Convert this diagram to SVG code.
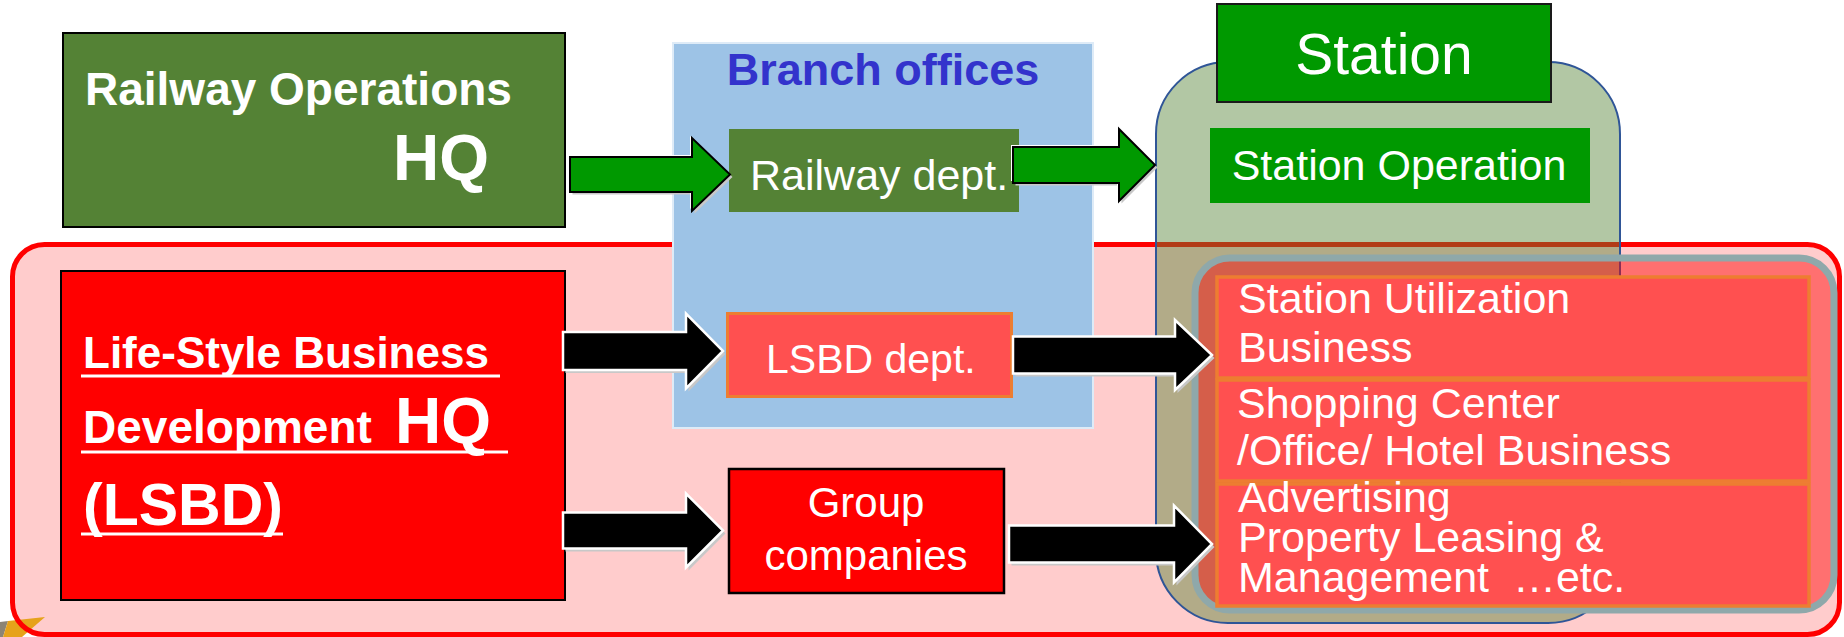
<svg xmlns="http://www.w3.org/2000/svg" width="1844" height="637" viewBox="0 0 1844 637">
<style>
text{font-family:"Liberation Sans",Arial,sans-serif;fill:#fff}
.b{font-weight:bold}
.ul{stroke:#fff;stroke-width:3}
.dkgreen{fill:#548235}
.green{fill:#009900}
.row{fill:#FF5050;stroke:#ED7D31;stroke-width:3.5}
.arG{fill:#009900;stroke:#000;stroke-width:2;stroke-linejoin:miter}
.arK{fill:#000;stroke:#fff;stroke-width:2.5;stroke-linejoin:miter}
.sh{fill:#C8C8C8}
.hl{fill:#fff}
</style>
<rect width="1844" height="637" fill="#fff"/>

<g id="lsbd-region">
<rect x="12.5" y="244.5" width="1827" height="390" rx="32" fill="#FFCCCC"/>
<polygon points="0,622 8,621 3,637 0,637" fill="#8C8474"/>
<polygon points="3,637 8,621 45,617 22,637" fill="#E6A21A"/>
<rect x="12.5" y="244.5" width="1827" height="390" rx="32" fill="none" stroke="#FF0000" stroke-width="5"/>
</g>

<g id="branch-offices">
<rect x="673" y="43" width="420" height="385" fill="#9DC3E6" stroke="#DEEBF7" stroke-width="2"/>
<text x="883" y="85" class="b" font-size="45" text-anchor="middle" style="fill:#3333CC">Branch offices</text>
</g>

<g id="station">
<rect x="1156" y="62" width="464" height="561" rx="72" fill="#548235" fill-opacity="0.45" stroke="#2F5597" stroke-width="2"/>
</g>

<g id="business-area">
<rect x="1195" y="258" width="639" height="352" rx="35" fill="#FF0000" fill-opacity="0.45" stroke="#8FA8AA" stroke-width="7"/>
</g>

<g id="station-utilization">
<rect x="1217" y="277" width="592" height="101" class="row"/>
<text x="1238" y="313" font-size="43">Station Utilization</text>
<text x="1238" y="362" font-size="43">Business</text>
</g>
<g id="shopping-center">
<rect x="1217" y="380" width="592" height="101" class="row"/>
<text x="1237" y="418" font-size="43">Shopping Center</text>
<text x="1237" y="465" font-size="43">/Office/ Hotel Business</text>
</g>
<g id="advertising">
<rect x="1217" y="484" width="592" height="122" class="row"/>
<text x="1238" y="512" font-size="43">Advertising</text>
<text x="1238" y="552" font-size="43">Property Leasing &amp;</text>
<text x="1238" y="592" font-size="43" xml:space="preserve">Management  …etc.</text>
</g>

<g id="railway-hq">
<rect x="63" y="33" width="502" height="194" class="dkgreen" stroke="#000" stroke-width="2"/>
<text x="85" y="105" class="b" font-size="46">Railway Operations</text>
<text x="393" y="180" class="b" font-size="64">HQ</text>
</g>

<g id="railway-dept">
<rect x="729" y="129" width="290" height="83" class="dkgreen"/>
<text x="750" y="190" font-size="43">Railway dept.</text>
</g>

<g id="station-label">
<rect x="1217" y="4" width="334" height="98" class="green" stroke="#1A1A1A" stroke-width="2"/>
<text x="1384" y="74" font-size="57" text-anchor="middle">Station</text>
</g>

<g id="station-operation">
<rect x="1210" y="128" width="380" height="75" class="green"/>
<text x="1399" y="180" font-size="43" text-anchor="middle">Station Operation</text>
</g>

<g id="lsbd-hq">
<rect x="61" y="271" width="504" height="329" fill="#FF0000" stroke="#000" stroke-width="2"/>
<text x="83" y="368" class="b" font-size="44">Life-Style Business</text>
<line x1="81" y1="376" x2="500" y2="376" class="ul"/>
<text x="83" y="443" class="b" font-size="46">Development<tspan x="395" font-size="64">HQ</tspan></text>
<line x1="81" y1="452" x2="508" y2="452" class="ul"/>
<text x="83" y="525" class="b" font-size="59">(LSBD)</text>
<line x1="81" y1="534" x2="283" y2="534" class="ul"/>
</g>

<g id="lsbd-dept">
<rect x="727.5" y="313.5" width="284" height="83" fill="#FF5050" stroke="#ED7D31" stroke-width="3"/>
<text x="766" y="373" font-size="41">LSBD dept.</text>
</g>

<g id="group-companies">
<rect x="729" y="469" width="275" height="124" fill="#FF0000" stroke="#000" stroke-width="2.5"/>
<text x="866" y="517" font-size="42" text-anchor="middle">Group</text>
<text x="866" y="570" font-size="42" text-anchor="middle">companies</text>
</g>

<g id="connectors">
<!-- green 1: Railway HQ -> Railway dept -->
<path class="sh" transform="translate(2.5,2.5)" d="M570,157 L692,157 L692,138 L730,174.5 L692,211 L692,192 L570,192 Z"/>
<path class="hl" transform="translate(-2,-2)" d="M570,157 L692,157 L692,138 L730,174.5 L692,211 L692,192 L570,192 Z"/>
<path class="arG" d="M570,157 L692,157 L692,138 L730,174.5 L692,211 L692,192 L570,192 Z"/>
<!-- green 2: Railway dept -> Station -->
<path class="sh" transform="translate(2.5,2.5)" d="M1013,147 L1119,147 L1119,129 L1155,165 L1119,201 L1119,183 L1013,183 Z"/>
<path class="hl" transform="translate(-2,-2)" d="M1013,147 L1119,147 L1119,129 L1155,165 L1119,201 L1119,183 L1013,183 Z"/>
<path class="arG" d="M1013,147 L1119,147 L1119,129 L1155,165 L1119,201 L1119,183 L1013,183 Z"/>
<!-- black 1: LSBD HQ -> LSBD dept -->
<path class="sh" transform="translate(2.5,3)" d="M563,332 L686,332 L686,313.5 L723,351 L686,388.5 L686,370 L563,370 Z"/>
<path class="arK" d="M563,332 L686,332 L686,313.5 L723,351 L686,388.5 L686,370 L563,370 Z"/>
<!-- black 2: LSBD HQ -> Group companies -->
<path class="sh" transform="translate(2.5,3)" d="M563,512.5 L686,512.5 L686,493.5 L723,530.5 L686,567.5 L686,548.5 L563,548.5 Z"/>
<path class="arK" d="M563,512.5 L686,512.5 L686,493.5 L723,530.5 L686,567.5 L686,548.5 L563,548.5 Z"/>
<!-- black 3: LSBD dept -> Station Utilization -->
<path class="sh" transform="translate(2.5,3)" d="M1013,336.5 L1175,336.5 L1175,320 L1212,355 L1175,390 L1175,373.5 L1013,373.5 Z"/>
<path class="arK" d="M1013,336.5 L1175,336.5 L1175,320 L1212,355 L1175,390 L1175,373.5 L1013,373.5 Z"/>
<!-- black 4: Group companies -> Advertising -->
<path class="sh" transform="translate(2.5,3)" d="M1009,525.5 L1174,525.5 L1174,505.5 L1212,544 L1174,582.5 L1174,562.5 L1009,562.5 Z"/>
<path class="arK" d="M1009,525.5 L1174,525.5 L1174,505.5 L1212,544 L1174,582.5 L1174,562.5 L1009,562.5 Z"/>
</g>
</svg>
